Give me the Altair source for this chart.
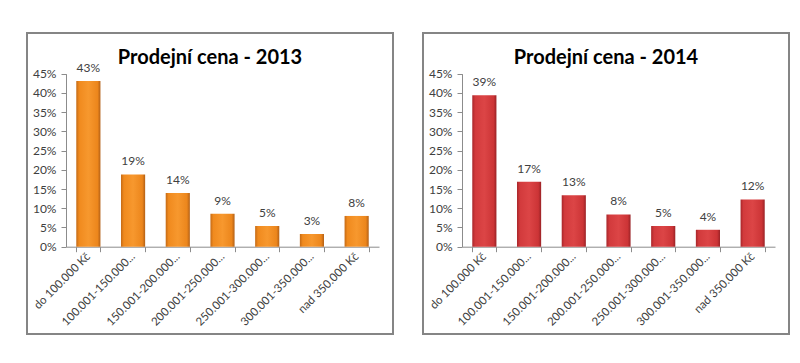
import altair as alt
import pandas as pd

categories = [
    "do 100.000 Kč",
    "100.001-150.000...",
    "150.001-200.000...",
    "200.001-250.000...",
    "250.001-300.000...",
    "300.001-350.000...",
    "nad 350.000 Kč",
]
share_2013 = [0.431, 0.188, 0.140, 0.086, 0.054, 0.033, 0.080]
share_2014 = [0.394, 0.169, 0.134, 0.084, 0.054, 0.044, 0.123]
titles = ["Prodejní cena - 2013", "Prodejní cena - 2014"]
y_ticks = [0, 0.05, 0.10, 0.15, 0.20, 0.25, 0.30, 0.35, 0.40, 0.45]

orange = {
    "gradient": "linear", "x1": 0, "x2": 1, "y1": 0, "y2": 0,
    "stops": [
        {"offset": 0, "color": "#c46a16"},
        {"offset": 0.12, "color": "#f08a1e"},
        {"offset": 0.5, "color": "#f7982e"},
        {"offset": 0.88, "color": "#ec861c"},
        {"offset": 1, "color": "#b36016"},
    ],
}
red = {
    "gradient": "linear", "x1": 0, "x2": 1, "y1": 0, "y2": 0,
    "stops": [
        {"offset": 0, "color": "#a8262a"},
        {"offset": 0.12, "color": "#d23a3c"},
        {"offset": 0.5, "color": "#dc4546"},
        {"offset": 0.88, "color": "#cc3436"},
        {"offset": 1, "color": "#9a2226"},
    ],
}

W, H = 366, 301
Y0, Y45 = 213.7, 40.7
X0, X1 = 39, 352


def panel(values, title, grad):
    df = pd.DataFrame({"cat": categories, "share": values})
    base = alt.Chart(df).encode(
        x=alt.X(
            "cat:N",
            sort=categories,
            scale=alt.Scale(range=[X0, X1], paddingInner=0.46, paddingOuter=0.23),
            axis=alt.Axis(
                title=None, labelAngle=-45, labelAlign="right", labelBaseline="middle",
                offset=-(H - Y0), tickBand="extent", tickSize=5, labelPadding=3,
                labelFontSize=11.5, labelColor="#404040", labelFont="Lato",
                domainColor="#8c8c8c", tickColor="#8c8c8c", labelLimit=200,
            ),
        ),
        y=alt.Y(
            "share:Q",
            scale=alt.Scale(domain=[0, 0.45], range=[Y0, Y45], nice=False, zero=True),
            axis=alt.Axis(
                title=None, format=".0%", values=y_ticks, offset=-X0, grid=False,
                tickSize=5, labelPadding=5, labelFontSize=12, labelColor="#404040",
                labelFont="Lato", domainColor="#8c8c8c", tickColor="#8c8c8c",
            ),
        ),
    )
    bars = base.mark_bar(color=grad)
    text = base.mark_text(
        baseline="bottom", dy=-6, fontSize=12, font="Lato", color="#404040"
    ).encode(text=alt.Text("share:Q", format=".0%"))
    return alt.layer(bars, text).properties(
        width=W,
        height=H,
        title=alt.TitleParams(
            title, anchor="middle", offset=-51, baseline="alphabetic",
            font="Lato", fontSize=20, fontWeight="bold", color="#000000",
        ),
    )


chart = alt.hconcat(
    panel(share_2013, titles[0], orange),
    panel(share_2014, titles[1], red),
    spacing=30,
    bounds="flush",
).properties(
    padding={"left": 13, "top": 24, "right": 0, "bottom": 0},
    background="white",
).configure_view(
    stroke="#858585", strokeWidth=2
)

chart.save("out.html", embed_options={"renderer": "svg", "actions": False})
